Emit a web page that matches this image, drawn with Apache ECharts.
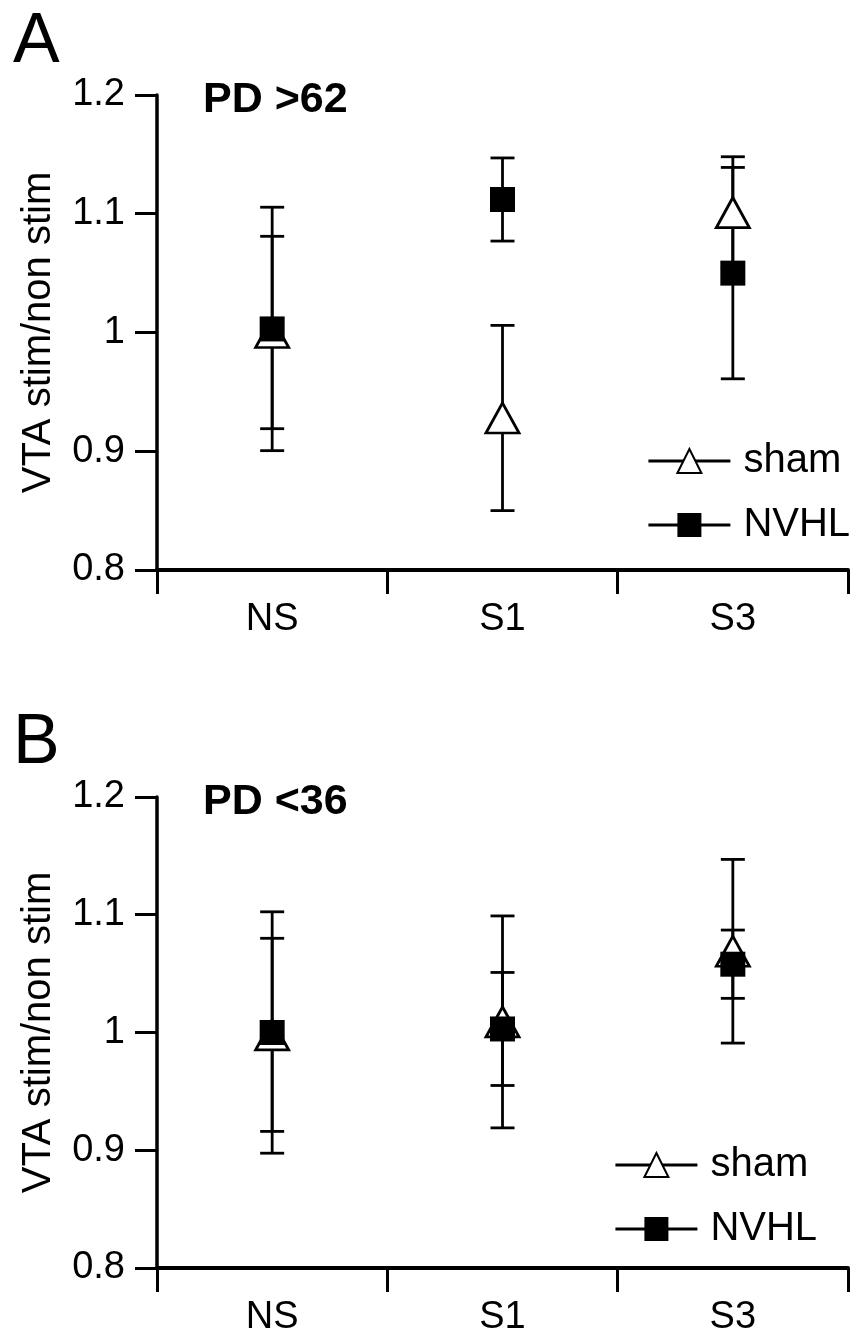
<!DOCTYPE html>
<html>
<head>
<meta charset="utf-8">
<script src="https://cdn.jsdelivr.net/npm/echarts@6/dist/echarts.min.js"></script>
<style>
html, body { margin: 0; padding: 0; background: #fff; }
#chart { width: 851px; height: 1337px; }
</style>
</head>
<body>
<div id="chart"></div>
<script>
// 类别
var categories = ['NS', 'S1', 'S3'];
var yTicks = [0.8, 0.9, 1.0, 1.1, 1.2];

// A: PD >62
var shamA = [1.000, 0.928, 1.101];
var shamErrA = [0.081, 0.078, 0.047];
var nvhlA = [1.003, 1.112, 1.050];
var nvhlErrA = [0.1025, 0.035, 0.089];

// B: PD <36
var shamB = [0.998, 1.009, 1.069];
var shamErrB = [0.082, 0.090, 0.078];
var nvhlB = [1.000, 1.003, 1.058];
var nvhlErrB = [0.1025, 0.048, 0.029];

var FONT = 'Liberation Sans, Arial, sans-serif';

function errData(means, errs) {
	var out = [];
	for (var i = 0; i < means.length; i++) {
		out.push([i, means[i] - errs[i], means[i] + errs[i]]);
	}
	return out;
}

//误差线
function renderErr(params, api) {
	var x = api.value(0);
	var top = api.coord([x, api.value(2)]);
	var bot = api.coord([x, api.value(1)]);
	var hw = 12;
	var st = { stroke: '#000', lineWidth: 2.8 };
	return {
		type: 'group',
		children: [
			{ type: 'line', shape: { x1: top[0], y1: top[1], x2: bot[0], y2: bot[1] }, style: st },
			{ type: 'line', shape: { x1: top[0] - hw, y1: top[1], x2: top[0] + hw, y2: top[1] }, style: st },
			{ type: 'line', shape: { x1: bot[0] - hw, y1: bot[1], x2: bot[0] + hw, y2: bot[1] }, style: st }
		]
	};
}

function xAxisOf(idx) {
	return {
		gridIndex: idx,
		type: 'category',
		data: categories,
		boundaryGap: true,
		axisLine: { lineStyle: { color: '#000', width: 4 } },
		axisTick: { show: true, length: 24, lineStyle: { color: '#000', width: 3 } },
		axisLabel: { margin: 31, fontSize: 38, color: '#000', fontFamily: FONT },
		splitLine: { show: false }
	};
}

function yAxisOf(idx) {
	return {
		gridIndex: idx,
		type: 'value',
		min: yTicks[0],
		max: yTicks[yTicks.length - 1],
		interval: 0.1,
		axisLine: { show: true, lineStyle: { color: '#000', width: 3.5 } },
		axisTick: { show: true, length: 22, lineStyle: { color: '#000', width: 3 } },
		axisLabel: {
			margin: 32, fontSize: 38, color: '#000', fontFamily: FONT,
			formatter: function (v) { return String(parseFloat(v.toFixed(1))); }
		},
		splitLine: { show: false },
		name: 'VTA stim/non stim',
		nameLocation: 'middle',
		nameGap: 98,
		nameTextStyle: { fontSize: 40, color: '#000', fontFamily: FONT }
	};
}

function seriesOf(idx, sham, shamErr, nvhl, nvhlErr) {
	return [
		{
			type: 'custom', xAxisIndex: idx, yAxisIndex: idx, z: 2,
			renderItem: renderErr, data: errData(sham, shamErr), silent: true
		},
		{
			type: 'custom', xAxisIndex: idx, yAxisIndex: idx, z: 2,
			renderItem: renderErr, data: errData(nvhl, nvhlErr), silent: true
		},
		{
			name: 'sham', type: 'line', xAxisIndex: idx, yAxisIndex: idx, z: 3,
			symbol: 'triangle', symbolSize: [33, 30],
			itemStyle: { color: '#fff', borderColor: '#000', borderWidth: 2.8 },
			lineStyle: { opacity: 0 },
			data: sham
		},
		{
			name: 'NVHL', type: 'line', xAxisIndex: idx, yAxisIndex: idx, z: 4,
			symbol: 'rect', symbolSize: 25,
			itemStyle: { color: '#000', borderColor: '#000', borderWidth: 0 },
			lineStyle: { opacity: 0 },
			data: nvhl
		}
	];
}

function legendOf(left, top) {
	return {
		orient: 'vertical',
		left: left,
		top: top,
		padding: 0,
		itemWidth: 82,
		itemHeight: 30,
		itemGap: 24,
		selectedMode: false,
		data: ['sham', 'NVHL'],
		lineStyle: { color: '#000', width: 2.8, opacity: 1 },
		textStyle: { fontSize: 40, color: '#000', fontFamily: FONT, padding: [0, 0, 0, 8] }
	};
}

var option = {
	animation: false,
	backgroundColor: '#fff',
	title: [
		{ text: 'A', left: 13, top: 8, padding: 0, textStyle: { fontSize: 70, fontWeight: 'normal', color: '#000', fontFamily: FONT } },
		{ text: 'PD >62', left: 203, top: 79, padding: 0, textStyle: { fontSize: 43, fontWeight: 'bold', color: '#000', fontFamily: FONT } },
		{ text: 'B', left: 13, top: 709, padding: 0, textStyle: { fontSize: 70, fontWeight: 'normal', color: '#000', fontFamily: FONT } },
		{ text: 'PD <36', left: 203, top: 781, padding: 0, textStyle: { fontSize: 43, fontWeight: 'bold', color: '#000', fontFamily: FONT } }
	],
	legend: [legendOf(647, 441), legendOf(614, 1145)],
	grid: [
		{ left: 157, top: 95, width: 691, height: 475 },
		{ left: 157, top: 797, width: 691, height: 475 }
	],
	xAxis: [xAxisOf(0), xAxisOf(1)],
	yAxis: [yAxisOf(0), yAxisOf(1)],
	series: seriesOf(0, shamA, shamErrA, nvhlA, nvhlErrA)
		.concat(seriesOf(1, shamB, shamErrB, nvhlB, nvhlErrB))
};

var myChart = echarts.init(document.getElementById('chart'));
myChart.setOption(option);
</script>
</body>
</html>
